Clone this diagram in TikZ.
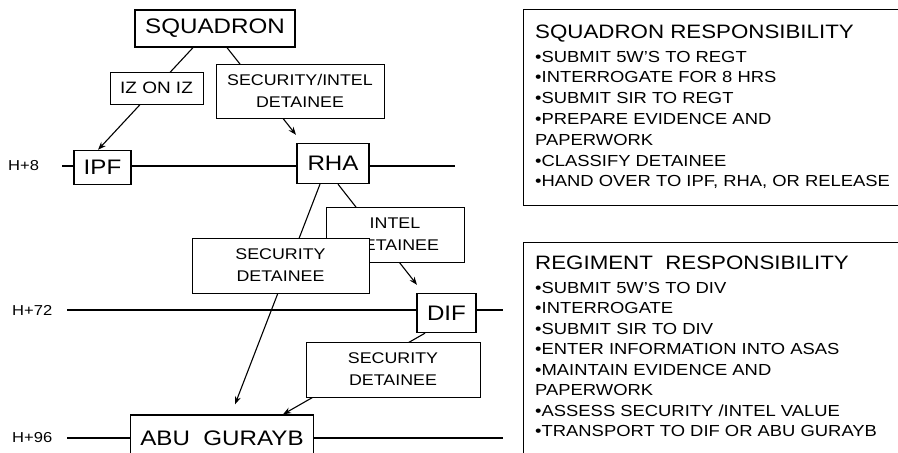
\documentclass[tikz,border=0pt]{standalone}
\usepackage{fontspec}
\setmainfont{Liberation Sans}[FakeStretch=1.15]
\usetikzlibrary{arrows.meta}
\newcommand\myfs[1]{\fontsize{#1}{#1}\selectfont}
\begin{document}
\begin{tikzpicture}[x=1pt,y=-1pt,
  box/.style={draw, line width=1.3pt, fill=white, inner sep=0pt, font=\myfs{21}},
  lbl/.style={draw, line width=1pt, fill=white, align=center, inner sep=0pt, font=\fontsize{15.5}{22}\selectfont},
  conn/.style={line width=1.1pt},
  arr/.style={conn, -{Stealth[length=8pt,width=6pt]}},
  tl/.style={line width=1.1pt},
  hl/.style={anchor=west, inner sep=0pt, font=\myfs{14.4}},
  item/.style={anchor=base west, inner sep=0pt, font=\myfs{16}},
  ttl/.style={anchor=base west, inner sep=0pt, font=\myfs{19.4}}]
\useasboundingbox (0,0) rectangle (898,453);
\begin{scope}
\clip (0,0) rectangle (898,453);
\fill[white] (0,0) rectangle (898,453);

% time lines
\coordinate (h8a) at (62,166);  \coordinate (h8b) at (455,166);
\coordinate (h72a) at (67,310); \coordinate (h72b) at (503,310);
\coordinate (h96a) at (67,438); \coordinate (h96b) at (503,438);
\draw[tl] (h8a) -- (h8b);
\draw[tl] (h72a) -- (h72b);
\draw[tl] (h96a) -- (h96b);

\node[hl] (t8) at (8,166) {H+8};
\node[hl] (t72) at (12,310) {H+72};
\node[hl] (t96) at (12,438) {H+96};

% main nodes
\node[box, minimum width=160, minimum height=37] (squad) at (215,28.5) {SQUADRON};
\node[box, minimum width=57, minimum height=34] (ipf) at (102.5,167.5) {IPF};
\node[box, minimum width=72, minimum height=40] (rha) at (333,163.5) {RHA};
\node[box, minimum width=59, minimum height=39] (dif) at (446.5,313) {DIF};
\node[box, minimum width=183, minimum height=46] (abu) at (222,438) {ABU\ \ GURAYB};

% connectors
\draw[arr] ([xshift=-22pt]squad.south) -- ([xshift=-4.5pt]ipf.north);
\draw[arr] ([xshift=12pt]squad.south) -- ([xshift=-37pt,yshift=8pt]rha.north);
\draw[arr] ([xshift=5pt]rha.south) -- ([xshift=-29.5pt,yshift=8pt]dif.north);
\draw[arr] ([xshift=-13pt]rha.south) -- ([xshift=13pt,yshift=10pt]abu.north);
\draw[arr] ([xshift=-21.5pt]dif.south) -- ([xshift=61pt]abu.north);

% connector labels
\node[lbl, minimum width=93, minimum height=32, font=\myfs{16.5}] (iz) at (156.5,88) {IZ ON IZ};
\node[lbl, minimum width=168, minimum height=54] (si) at (300,91) {SECURITY/INTEL\\DETAINEE};
\node[lbl, minimum width=138, minimum height=55] (intel) at (395,234.5) {INTEL\\DETAINEE};
\node[lbl, minimum width=177, minimum height=55] (sec1) at (280.5,265.5) {SECURITY\\DETAINEE};
\node[lbl, minimum width=174, minimum height=55] (sec2) at (393,369.5) {SECURITY\\DETAINEE};

% responsibility boxes
\draw[line width=1pt] (523,9) rectangle (910,205);
\node[ttl] (sqt) at (535,38) {SQUADRON RESPONSIBILITY};
\node[item] (sq1) at (535,62) {•SUBMIT 5W'S TO REGT};
\node[item] (sq2) at (535,82.8) {•INTERROGATE FOR 8 HRS};
\node[item] (sq3) at (535,103.6) {•SUBMIT SIR TO REGT};
\node[item] (sq4) at (535,124.4) {•PREPARE EVIDENCE AND};
\node[item] (sq5) at (535,145.2) {PAPERWORK};
\node[item] (sq6) at (535,166) {•CLASSIFY DETAINEE};
\node[item] (sq7) at (535,186.8) {•HAND OVER TO IPF, RHA, OR RELEASE};

\draw[line width=1pt] (523,242) rectangle (910,470);
\node[ttl] (rgt) at (535,269) {REGIMENT\ \ RESPONSIBILITY};
\node[item] (rg1) at (535,293) {•SUBMIT 5W'S TO DIV};
\node[item] (rg2) at (535,313.5) {•INTERROGATE};
\node[item] (rg3) at (535,334) {•SUBMIT SIR TO DIV};
\node[item] (rg4) at (535,354.5) {•ENTER INFORMATION INTO ASAS};
\node[item] (rg5) at (535,375) {•MAINTAIN EVIDENCE AND};
\node[item] (rg6) at (535,395.5) {PAPERWORK};
\node[item] (rg7) at (535,416) {•ASSESS SECURITY /INTEL VALUE};
\node[item] (rg8) at (535,436.5) {•TRANSPORT TO DIF OR ABU GURAYB};
\end{scope}
\end{tikzpicture}
\end{document}
